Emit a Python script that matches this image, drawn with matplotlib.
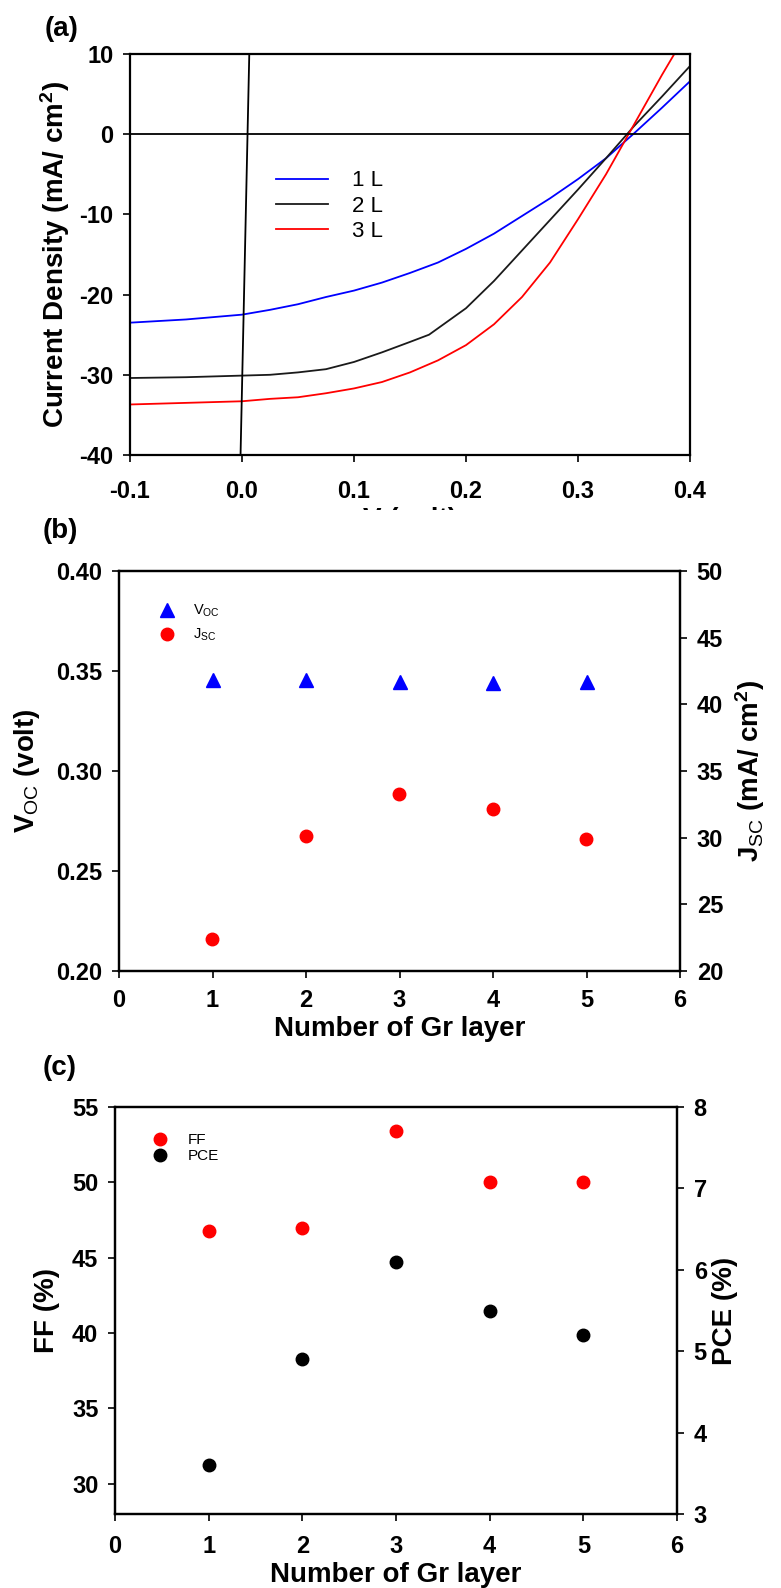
import numpy as np
import matplotlib
matplotlib.use('Agg')
from matplotlib import pyplot as plt
from matplotlib.patches import Rectangle

plt.rcParams['font.family'] = ['Liberation Sans', 'DejaVu Sans']
plt.rcParams['axes.unicode_minus'] = False
plt.rcParams['mathtext.fontset'] = 'custom'
plt.rcParams['mathtext.rm'] = 'Liberation Sans'
plt.rcParams['mathtext.bf'] = 'Liberation Sans:bold'
plt.rcParams['mathtext.it'] = 'Liberation Sans:italic'

# (a) J-V curves
V1 = [-0.1, -0.05, 0.0, 0.025, 0.05, 0.075, 0.1, 0.125, 0.15, 0.175, 0.2, 0.225,
      0.25, 0.275, 0.3, 0.325, 0.35, 0.375, 0.4]
J1 = [-23.5, -23.1, -22.5, -21.9, -21.2, -20.3, -19.5, -18.5, -17.3, -16.0, -14.3,
      -12.4, -10.2, -8.0, -5.6, -3.0, 0.1, 3.3, 6.6]
V2 = [-0.1, -0.05, 0.0, 0.025, 0.05, 0.075, 0.1, 0.125, 0.15, 0.167, 0.183, 0.2,
      0.225, 0.25, 0.275, 0.3, 0.325, 0.35, 0.375, 0.4]
J2 = [-30.4, -30.3, -30.1, -30.0, -29.7, -29.3, -28.4, -27.2, -25.9, -25.0, -23.4,
      -21.7, -18.3, -14.5, -10.7, -6.9, -3.0, 1.0, 4.7, 8.5]
V3 = [-0.1, -0.05, 0.0, 0.025, 0.05, 0.075, 0.1, 0.125, 0.15, 0.175, 0.2, 0.225,
      0.25, 0.275, 0.3, 0.325, 0.35, 0.375, 0.386]
J3 = [-33.7, -33.5, -33.3, -33.0, -32.8, -32.3, -31.7, -30.9, -29.7, -28.2, -26.3,
      -23.7, -20.3, -16.0, -10.6, -5.0, 1.2, 7.4, 10.0]
Vd = [-0.0013, 0.0065]
Jd = [-40, 10]

# (b) Voc / Jsc
layers = [1, 2, 3, 4, 5]
Voc = [0.3454, 0.3454, 0.3445, 0.3438, 0.3445]
Jsc = [22.4, 30.15, 33.25, 32.15, 29.9]

# (c) FF / PCE
FF = [46.8, 47.0, 53.4, 50.0, 50.0]
PCE = [3.60, 4.90, 6.10, 5.50, 5.20]

W, H = 781, 1588
fig = plt.figure(figsize=(W / 100, H / 100), dpi=100)


def box(l, r, t, b):
    return [l / W, 1 - b / H, (r - l) / W, (b - t) / H]


def style(ax, fs=17):
    for s in ax.spines.values():
        s.set_linewidth(1.6)
    ax.tick_params(direction='out', length=5, width=1.2, labelsize=fs)
    ax.tick_params(axis='y', pad=7)
    for lab in ax.get_xticklabels() + ax.get_yticklabels():
        lab.set_fontweight('bold')


lab_font = dict(fontweight='bold', fontsize=20)

# ---- (a)
ax = fig.add_axes(box(130, 690, 54, 455))
ax.plot(V1, J1, color='#0000ff', lw=1.3, label='1 L')
ax.plot(V2, J2, color='#1a1a1a', lw=1.3, label='2 L')
ax.plot(V3, J3, color='#ff0000', lw=1.3, label='3 L')
ax.plot(Vd, Jd, color='black', lw=1.3)
ax.axhline(0, color='black', lw=1.3)
ax.set_xlim(-0.1, 0.4)
ax.set_ylim(-40, 10)
ax.set_xticks([-0.1, 0.0, 0.1, 0.2, 0.3, 0.4])
ax.set_xticklabels(['-0.1', '0.0', '0.1', '0.2', '0.3', '0.4'])
ax.set_yticks([-40, -30, -20, -10, 0, 10])
ax.tick_params(top=False, right=False)
style(ax, 17)
ax.tick_params(axis='x', pad=13)
ax.set_ylabel(r'Current Density (mA/ cm$^\mathbf{2}$)', **lab_font)
ax.yaxis.set_label_coords(-0.104, 0.5)
ax.set_xlabel('V (volt)', labelpad=3, **lab_font)
ax.legend(loc='upper left', bbox_to_anchor=(0.26, 0.71), frameon=False,
          prop={'size': 16}, handlelength=2.35, borderpad=0, borderaxespad=0,
          labelspacing=0.2, handletextpad=1.1)
fig.text(62 / W, 1 - 29 / H, '(a)', fontsize=20, fontweight='bold',
         ha='center', va='center')

# white band hiding most of the (a) axis title
fig.add_artist(Rectangle((0, 1 - 552 / H), 1, (552 - 510) / H, transform=fig.transFigure,
                         facecolor='white', edgecolor='none', zorder=10))

# ---- (b)
bx = fig.add_axes(box(119, 680, 571, 971))
bx.plot(layers, Voc, '^', color='#0000ff', ms=9.5, label=r'V$_{\mathrm{OC}}$', zorder=3)
bx.plot([], [], 'o', color='#ff0000', ms=9, label=r'J$_{\mathrm{SC}}$')
bx.set_xlim(0, 6)
bx.set_ylim(0.20, 0.40)
bx.set_xticks(range(7))
bx.set_yticks([0.20, 0.25, 0.30, 0.35, 0.40])
bx.set_yticklabels(['0.20', '0.25', '0.30', '0.35', '0.40'])
bx2 = bx.twinx()
bx2.plot(layers, Jsc, 'o', color='#ff0000', ms=9)
bx2.set_ylim(20, 50)
bx2.set_yticks([20, 25, 30, 35, 40, 45, 50])
style(bx, 17)
style(bx2, 17)
bx.tick_params(top=False, right=False)
bx.tick_params(axis='x', pad=8)
bx.set_xlabel('Number of Gr layer', labelpad=3, **lab_font)
bx.set_ylabel(r'V$_{\mathrm{OC}}$ (volt)', **lab_font)
bx.yaxis.set_label_coords(-0.137, 0.5)
bx2.set_ylabel(r'J$_{\mathrm{SC}}$ (mA/ cm$^\mathbf{2}$)', **lab_font)
bx2.yaxis.set_label_coords(1.094, 0.5)
bx.legend(loc='upper left', bbox_to_anchor=(0.073, 0.92), frameon=False,
          prop={'size': 10.5}, handlelength=1.0, handletextpad=1.3,
          borderpad=0, borderaxespad=0, labelspacing=0.5)
fig.text(60 / W, 1 - 531 / H, '(b)', fontsize=20, fontweight='bold',
         ha='center', va='center', zorder=11)

# ---- (c)
cx = fig.add_axes(box(115, 677, 1107, 1514))
cx.plot(layers, FF, 'o', color='#ff0000', ms=9, label='FF', zorder=3)
cx.plot([], [], 'o', color='black', ms=9, label='PCE')
cx.set_xlim(0, 6)
cx.set_ylim(28, 55)
cx.set_xticks(range(7))
cx.set_yticks([30, 35, 40, 45, 50, 55])
cx2 = cx.twinx()
cx2.plot(layers, PCE, 'o', color='black', ms=9)
cx2.set_ylim(3, 8)
cx2.set_yticks([3, 4, 5, 6, 7, 8])
style(cx, 17)
style(cx2, 17)
cx.tick_params(top=False, right=False)
cx.tick_params(axis='x', pad=10)
cx.set_xlabel('Number of Gr layer', labelpad=3, **lab_font)
cx.set_ylabel('FF (%)', **lab_font)
cx.yaxis.set_label_coords(-0.098, 0.5)
cx2.set_ylabel('PCE (%)', **lab_font)
cx2.yaxis.set_label_coords(1.062, 0.5)
cx.legend(loc='upper left', bbox_to_anchor=(0.066, 0.936), frameon=False,
          prop={'size': 11}, handlelength=1.0, handletextpad=1.35,
          borderpad=0, borderaxespad=0, labelspacing=0.15)
fig.text(60 / W, 1 - 1068 / H, '(c)', fontsize=20, fontweight='bold',
         ha='center', va='center')

fig.savefig('out.png', dpi=100)
